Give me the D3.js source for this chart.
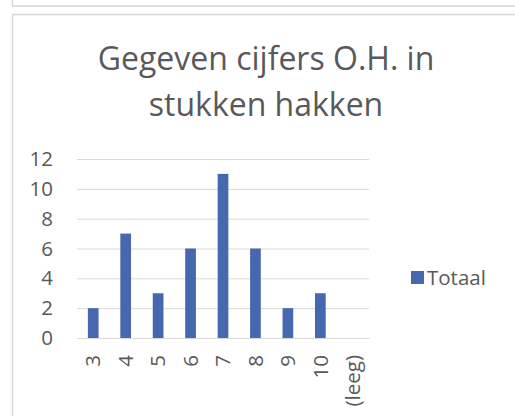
<!DOCTYPE html>
<html>
<head>
<meta charset="utf-8">
<script src="https://cdn.jsdelivr.net/npm/d3@7"></script>
<style>
  body { margin: 0; background: #fff; }
  svg { display: block; }
</style>
</head>
<body>
<div id="chart"></div>
<script>
const WIDTH = 515;
const HEIGHT = 416;
const TEXT_COLOR = "#595959";
const BAR_COLOR = "#4767b1";
const GRID_COLOR = "#d9d9d9";

// data
const categories = ["3", "4", "5", "6", "7", "8", "9", "10", "(leeg)"];
const totaal = [2, 7, 3, 6, 11, 6, 2, 3, null];
const yTicks = [0, 2, 4, 6, 8, 10, 12];
const titleLines = ["Gegeven cijfers O.H. in", "stukken hakken"];
const seriesName = "Totaal";

const FONT = "'Open Sans', 'Noto Sans', sans-serif";
const AXIS_SIZE = 20.5;

const svg = d3.select('#chart').append('svg')
  .attr('width', WIDTH)
  .attr('height', HEIGHT);

// chart frames (previous chart bottom + this chart)
svg.append('path')
  .attr('d', 'M12.5,0 V6 H515')
  .attr('fill', 'none')
  .attr('stroke', '#d6d6d6')
  .attr('stroke-width', 1.5);
svg.append('path')
  .attr('d', 'M12.5,416 V14.5 H515')
  .attr('fill', 'none')
  .attr('stroke', '#d6d6d6')
  .attr('stroke-width', 1.5);

// title
svg.append('g')
  .selectAll('text')
  .data(titleLines)
  .join('text')
  .attr('x', 266)
  .attr('y', (d, i) => 70 + i * 46)
  .attr('text-anchor', 'middle')
  .attr('font-family', FONT)
  .attr('font-size', 32)
  .attr('fill', TEXT_COLOR)
  .text(d => d);

const plot = { left: 77, right: 369, top: 159, bottom: 338 };

const x = d3.scaleBand()
  .domain(categories)
  .range([plot.left, plot.right])
  .padding(0);

const y = d3.scaleLinear()
  .domain([0, 12])
  .range([plot.bottom, plot.top]);

// gridlines
const yAxis = d3.axisLeft(y)
  .tickValues(yTicks)
  .tickSize(-(plot.right - plot.left))
  .tickPadding(24);

const gy = svg.append('g')
  .attr('transform', `translate(${plot.left},0)`)
  .call(yAxis);
gy.select('.domain').remove();
gy.selectAll('.tick line')
  .attr('stroke', GRID_COLOR)
  .attr('stroke-width', 1);
gy.selectAll('.tick text')
  .attr('font-family', FONT)
  .attr('font-size', AXIS_SIZE)
  .attr('fill', TEXT_COLOR);

// bars
const barW = x.bandwidth() * 0.33;
svg.append('g')
  .selectAll('rect')
  .data(categories.map((c, i) => ({ c, v: totaal[i] })).filter(d => d.v != null))
  .join('rect')
  .attr('x', d => x(d.c) + x.bandwidth() / 2 - barW / 2)
  .attr('y', d => y(d.v))
  .attr('width', barW)
  .attr('height', d => y(0) - y(d.v))
  .attr('fill', BAR_COLOR);

// x axis
const xAxis = d3.axisBottom(x).tickSize(0).tickPadding(0);
const gx = svg.append('g')
  .attr('transform', `translate(0,${plot.bottom})`)
  .call(xAxis);
gx.select('.domain').attr('stroke', GRID_COLOR);
gx.selectAll('.tick text')
  .attr('font-family', FONT)
  .attr('font-size', AXIS_SIZE)
  .attr('fill', TEXT_COLOR)
  .attr('text-anchor', 'end')
  .attr('transform', 'rotate(-90)')
  .attr('x', -17)
  .attr('y', 0)
  .attr('dy', '0.35em');

// legend
const lg = svg.append('g').attr('transform', 'translate(411,271)');
lg.append('rect')
  .attr('width', 13)
  .attr('height', 13)
  .attr('fill', BAR_COLOR);
lg.append('text')
  .attr('x', 16)
  .attr('y', 14)
  .attr('font-family', FONT)
  .attr('font-size', AXIS_SIZE)
  .attr('fill', TEXT_COLOR)
  .text(seriesName);
</script>
</body>
</html>
